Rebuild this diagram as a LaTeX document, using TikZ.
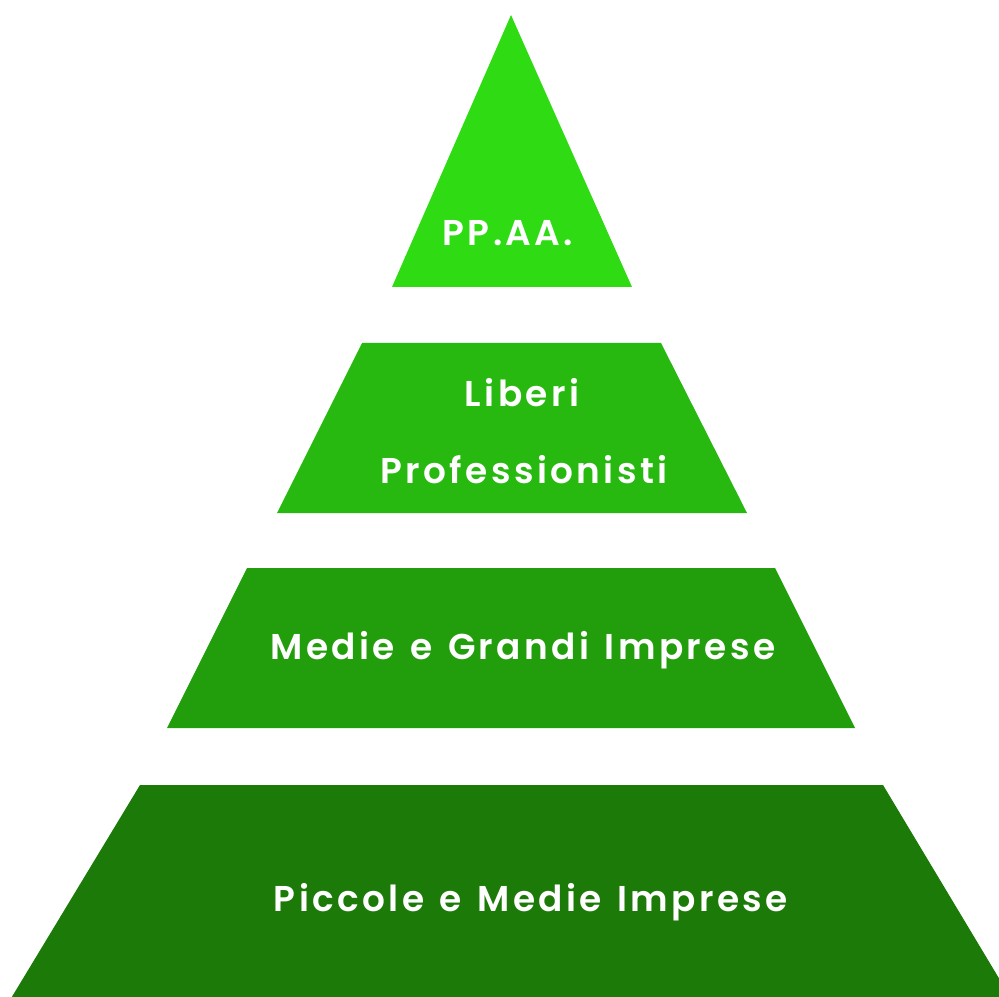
\documentclass[tikz,border=0pt]{standalone}
\usepackage{fontspec}
\setmainfont{Poppins}[LetterSpace=9.5, BoldFont={Poppins SemiBold}, WordSpace=1.3]
\usepackage{xcolor}
\definecolor{tierone}{HTML}{2FDC14}
\definecolor{tiertwo}{HTML}{27B90F}
\definecolor{tierthree}{HTML}{229E0C}
\definecolor{tierfour}{HTML}{1C7B08}

\begin{document}
\begin{tikzpicture}[x=0.025cm, y=-0.025cm,
                    every node/.style={white, font=\fontsize{25.5}{29}\selectfont\bfseries},
                    tierlabel/.style={white, inner sep=1pt, align=center}]

  %% fixed frame of the picture
  \useasboundingbox (0,0) rectangle (999,997);
  \clip (0,0) rectangle (999,997);

  %% the four tiers, top to bottom
  \fill[tierone]   (511,15) -- (632,287) -- (392,287) -- cycle;
  \fill[tiertwo]   (362,343) -- (661,343) -- (747,513) -- (277,513) -- cycle;
  \fill[tierthree] (247,568) -- (775,568) -- (855,728) -- (167,728) -- cycle;
  \fill[tierfour]  (140,785) -- (883,785) -- (1012,1000) -- (10,1000) -- cycle;

  %% labels of the tiers
  \node[tierlabel] (paa) at (508,233) {PP.AA.};
  \node[tierlabel] (liberi) at (522,393) {Liberi};
  \node[tierlabel] (profess) at (524,470) {Professionisti};
  \node[tierlabel] (grandi) at (523,650) {Medie e Grandi Imprese};
  \node[tierlabel] (piccole) at (531,902) {Piccole e Medie Imprese};

\end{tikzpicture}
\end{document}
